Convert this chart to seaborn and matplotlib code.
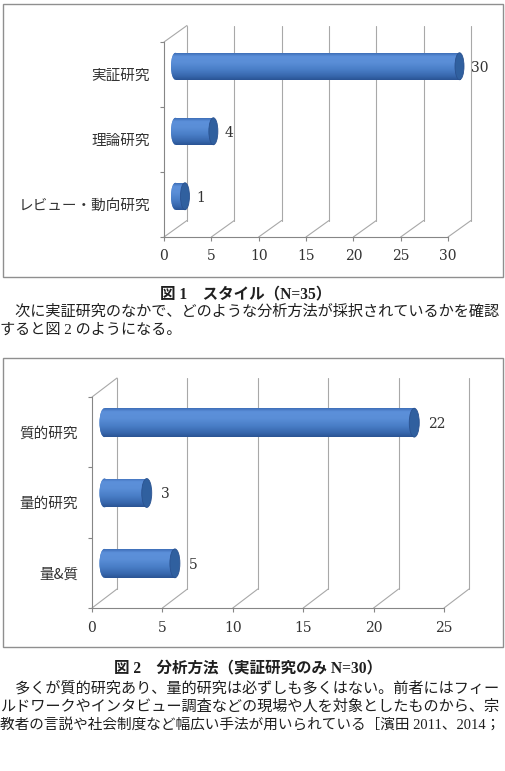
import numpy as np
import pandas as pd
import matplotlib
matplotlib.use("Agg")
import matplotlib.pyplot as plt
import seaborn as sns
from matplotlib.transforms import offset_copy
from matplotlib.patches import Ellipse, Rectangle
from matplotlib.colors import LinearSegmentedColormap

# ---------------- data ----------------
cats1 = ["実証研究", "理論研究", "レビュー・動向研究"]
vals1 = [30, 4, 1]
ticks1 = [0, 5, 10, 15, 20, 25, 30]

cats2 = ["質的研究", "量的研究", "量&質"]
vals2 = [22, 3, 5]
ticks2 = [0, 5, 10, 15, 20, 25]

caption1 = "図 1　スタイル（N=35）"
caption2 = "図 2　分析方法（実証研究のみ N=30）"
para1 = ["　次に実証研究のなかで、どのような分析方法が採択されているかを確認",
         "すると図 2 のようになる。"]
para2 = ["　多くが質的研究あり、量的研究は必ずしも多くはない。前者にはフィー",
         "ルドワークやインタビュー調査などの現場や人を対象としたものから、宗",
         "教者の言説や社会制度など幅広い手法が用いられている［濱田 2011、2014；"]

# ---------------- style ----------------
sns.set_style("white")
plt.rcParams["font.family"] = ["DejaVu Serif", "Noto Sans CJK JP"]

W, H = 505, 771
fig = plt.figure(figsize=(W / 100, H / 100), dpi=100)
fig.patch.set_facecolor("white")

JP = ["Noto Sans CJK JP", "DejaVu Sans"]
BODY = ["Liberation Serif", "Noto Sans CJK JP"]
NUM = ["DejaVu Serif"]
AXC = "#868686"
GRC = "#A8A8A8"

grad_cmap = LinearSegmentedColormap.from_list(
    "cyl",
    [(0.0, "#3F6FB8"), (0.12, "#5C90DA"), (0.35, "#5A8ED7"),
     (0.6, "#4A7FC8"), (0.85, "#3868AE"), (1.0, "#2A5494")])
grad = np.linspace(0, 1, 64).reshape(-1, 1)


def fbox(l, t, r, b):
    return [l / W, 1 - b / H, (r - l) / W, (b - t) / H]


def frame(l, t, r, b):
    fig.add_artist(Rectangle((l / W, 1 - b / H), (r - l) / W, (b - t) / H,
                             transform=fig.transFigure, fill=False,
                             edgecolor="#8F8F8F", lw=1.0))


def draw_chart(box, cats, vals, ticks, dx, dy, bar_w, ew_px, lab_pad):
    ax = fig.add_axes(box)
    ax.patch.set_alpha(0)
    n = len(cats)
    df = pd.DataFrame({"cat": cats, "val": vals})
    sns.barplot(data=df, x="val", y="cat", orient="h", color="#4A7FC8",
                saturation=1, width=bar_w, ax=ax, zorder=3)
    xmax = ticks[-1]
    ax.set_xlim(0, xmax)
    ax.set_ylim(n - 0.5, -0.5)
    ax.autoscale(False)
    ax.set_xlabel("")
    ax.set_ylabel("")

    for s in ["top", "right"]:
        ax.spines[s].set_visible(False)
    for s in ["left", "bottom"]:
        ax.spines[s].set_color(AXC)
        ax.spines[s].set_linewidth(0.8)

    ax.set_yticks(np.arange(n + 1) - 0.5)
    ax.set_yticklabels([])
    ax.set_yticks(np.arange(n), minor=True)
    ax.set_yticklabels(cats, minor=True, fontfamily=JP, fontsize=10.5,
                       color="#333333")
    ax.tick_params(axis="y", which="major", length=3, color=AXC, width=0.8,
                   direction="out", left=True)
    ax.tick_params(axis="y", which="minor", length=0, pad=10)
    ax.set_xticks(ticks)
    ax.set_xticklabels([str(t) for t in ticks], fontfamily=NUM, fontsize=10,
                       color="#333333")
    ax.tick_params(axis="x", length=3, color=AXC, width=0.8, direction="out",
                   pad=6, bottom=True)

    # back wall and floor depth lines
    tback = offset_copy(ax.transData, fig=fig, x=dx, y=dy, units="dots")
    inv = ax.transData.inverted()
    ybot, ytop = n - 0.5, -0.5
    for t in ticks:
        ax.plot([t, t], [ybot, ytop], transform=tback, color=GRC, lw=0.8,
                zorder=1, clip_on=False)
        px, py = ax.transData.transform((t, ybot))
        qx, qy = inv.transform((px + dx, py + dy))
        ax.plot([t, qx], [ybot, qy], color=GRC, lw=0.8, zorder=1,
                clip_on=False)
    px, py = ax.transData.transform((0, ytop))
    qx, qy = inv.transform((px + dx, py + dy))
    ax.plot([0, qx], [ytop, qy], color=GRC, lw=0.8, zorder=1, clip_on=False)

    # cylinders at mid depth
    tbar = offset_copy(ax.transData, fig=fig, x=dx / 2, y=dy / 2, units="dots")
    ew = ew_px * xmax / (box[2] * W)
    bars = list(ax.patches)
    for i, p in enumerate(bars):
        p.set_transform(tbar)
        p.set_edgecolor("none")
        p.set_clip_on(False)
        x0, wd, y0, h = p.get_x(), p.get_width(), p.get_y(), p.get_height()
        yc = y0 + h / 2
        left = Ellipse((x0, yc), ew, h, transform=tbar, facecolor="#4A7FC8",
                       edgecolor="none", zorder=3, clip_on=False)
        ax.add_patch(left)
        for clip in (p, left):
            im = ax.imshow(grad, cmap=grad_cmap, aspect="auto",
                           extent=(x0 - ew, x0 + wd, y0 + h, y0),
                           transform=tbar, zorder=3.5,
                           interpolation="bilinear")
            im.set_clip_box(None)
            im.set_clip_path(clip)
        cap = Ellipse((x0 + wd, yc), ew, h, transform=tbar,
                      facecolor="#30609F", edgecolor="#2A5290", lw=0.6,
                      zorder=4, clip_on=False)
        ax.add_patch(cap)
        tlab = offset_copy(ax.transData, fig=fig,
                           x=dx / 2 + ew_px / 2 + lab_pad, y=dy / 2 - 1.5,
                           units="dots")
        ax.text(x0 + wd, yc, str(vals[i]), transform=tlab, ha="left",
                va="center", fontfamily=NUM, fontsize=10, color="#333333",
                zorder=5)
    ax.set_xlim(0, xmax)
    ax.set_ylim(n - 0.5, -0.5)
    return ax


# chart 1
frame(3, 4, 503, 277)
draw_chart(fbox(164, 42, 448, 237), cats1, vals1, ticks1,
           dx=23, dy=16.5, bar_w=0.415, ew_px=9, lab_pad=7)

# chart 2
frame(3, 358, 503, 647)
draw_chart(fbox(92, 397, 444, 608), cats2, vals2, ticks2,
           dx=25, dy=19, bar_w=0.41, ew_px=10, lab_pad=9)

# captions and body text
TXT = "#1F1F1F"
fig.text(246 / W, 1 - 294 / H, caption1, ha="center", va="center",
         fontfamily=BODY, fontweight="bold", fontsize=11.2, color=TXT)
fig.text(248 / W, 1 - 668 / H, caption2, ha="center", va="center",
         fontfamily=BODY, fontweight="bold", fontsize=11.2, color=TXT)

renderer = fig.canvas.get_renderer()


def body_line(y, line, justify):
    t = fig.text(0.5 / W, 1 - y / H, line, ha="left", va="center",
                 fontfamily=BODY, fontsize=10.9, color=TXT)
    if justify:
        bb = t.get_window_extent(renderer)
        target = 501.0 - 0.5
        t.set_fontsize(10.9 * target / bb.width)
    return t


for k, line in enumerate(para1):
    body_line(312 + 18.5 * k, line, justify=(k < len(para1) - 1))
for k, line in enumerate(para2):
    body_line(688 + 18.5 * k, line, justify=True)

fig.savefig("out.png", dpi=100, facecolor="white")
